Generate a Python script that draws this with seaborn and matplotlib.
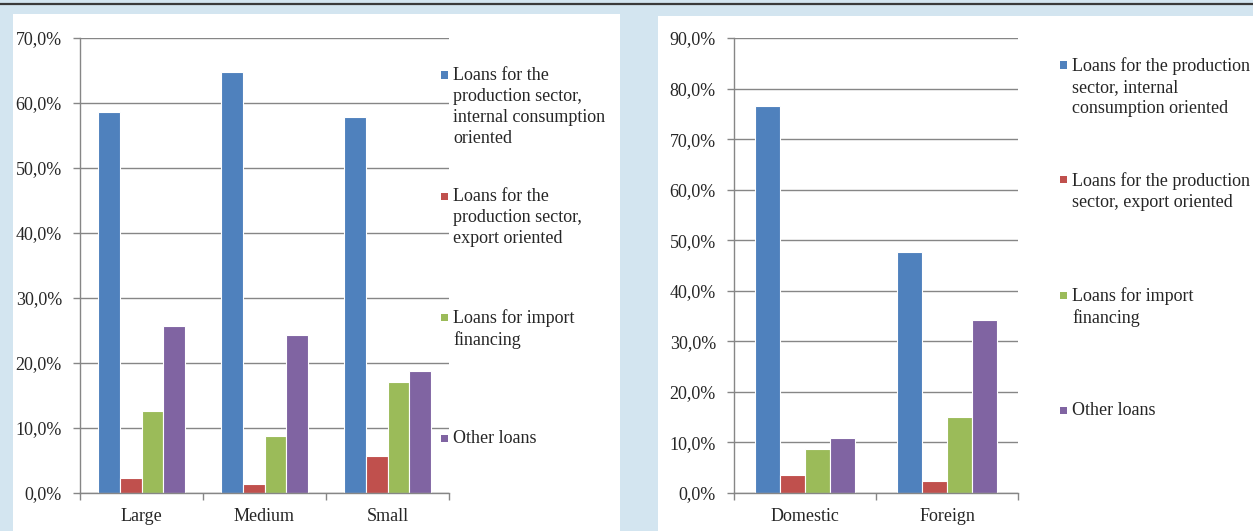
import pandas as pd
import matplotlib.pyplot as plt
import seaborn as sns
from matplotlib.patches import Rectangle
from matplotlib.lines import Line2D
from matplotlib.ticker import FuncFormatter

W, H = 1253, 531

# 数据
series = ["internal", "export", "import", "other"]
colors = ["#4f81bd", "#c0504d", "#9bbb59", "#8064a2"]

size_groups = ["Large", "Medium", "Small"]
size_internal = [58.6, 64.8, 57.8]
size_export = [2.3, 1.4, 5.7]
size_import = [12.6, 8.8, 17.1]
size_other = [25.7, 24.3, 18.8]

owner_groups = ["Domestic", "Foreign"]
owner_internal = [76.5, 47.7]
owner_export = [3.5, 2.4]
owner_import = [8.7, 15.1]
owner_other = [10.9, 34.2]

left_labels = ["Loans for the\nproduction sector,\ninternal consumption\noriented",
               "Loans for the\nproduction sector,\nexport oriented",
               "Loans for import\nfinancing",
               "Other loans"]
right_labels = ["Loans for the production\nsector, internal\nconsumption oriented",
                "Loans for the production\nsector, export oriented",
                "Loans for import\nfinancing",
                "Other loans"]


def to_long(groups, *vals):
    rows = []
    for s, v in zip(series, vals):
        for g, x in zip(groups, v):
            rows.append({"group": g, "series": s, "value": x})
    return pd.DataFrame(rows)


df_size = to_long(size_groups, size_internal, size_export, size_import, size_other)
df_owner = to_long(owner_groups, owner_internal, owner_export, owner_import, owner_other)

sns.set_style("white")
plt.rcParams['font.family'] = ['Liberation Serif', 'DejaVu Serif']

fig = plt.figure(figsize=(W / 100, H / 100), dpi=100, facecolor="#d3e5f0")

# 白色面板与顶部线条
fig.add_artist(Rectangle((13 / W, 0), (620 - 13) / W, (531 - 14) / H, transform=fig.transFigure,
                         facecolor="white", edgecolor="none", zorder=-1))
fig.add_artist(Rectangle((658 / W, 0), (1253 - 658) / W, (531 - 16) / H, transform=fig.transFigure,
                         facecolor="white", edgecolor="none", zorder=-1))
fig.add_artist(Line2D([0, 1], [1 - 4 / H, 1 - 4 / H], transform=fig.transFigure,
                      color="#3a3a3a", lw=1.6))

ax1 = fig.add_axes([80 / W, 38 / H, 369 / W, 455 / H])
ax2 = fig.add_axes([734 / W, 38 / H, 284 / W, 455 / H])

pct = FuncFormatter(lambda v, p: f"{v:.1f}%".replace(".", ","))

for ax, df, groups, ymax in [(ax1, df_size, size_groups, 70), (ax2, df_owner, owner_groups, 90)]:
    sns.barplot(data=df, x="group", y="value", hue="series", hue_order=series,
                palette=colors, saturation=1, width=0.71, edgecolor="white",
                linewidth=0.8, legend=False, ax=ax)
    ax.set_ylim(0, ymax)
    ax.set_yticks(range(0, ymax + 1, 10))
    ax.yaxis.set_major_formatter(pct)
    ax.set_xlim(-0.5, len(groups) - 0.5)
    ax.set_xticks([i - 0.5 for i in range(len(groups) + 1)], minor=True)
    ax.set_xlabel("")
    ax.set_ylabel("")
    ax.grid(axis="y", color="#868686", lw=1)
    ax.set_axisbelow(True)
    for s in ["top", "right"]:
        ax.spines[s].set_visible(False)
    for s in ["left", "bottom"]:
        ax.spines[s].set_color("#868686")
        ax.spines[s].set_linewidth(1)
    ax.tick_params(axis="y", length=5, color="#868686", width=1, labelsize=13, pad=8, left=True)
    ax.tick_params(axis="x", which="major", length=0, labelsize=13, pad=11)
    ax.tick_params(axis="x", which="minor", length=5, color="#868686", width=1, bottom=True)
    ax.set_facecolor("white")


def draw_legend(labels, x_marker, x_text, y_first, step):
    for i, (lab, c) in enumerate(zip(labels, colors)):
        y = y_first + i * step
        fig.add_artist(Rectangle(((x_marker - 3.5) / W, 1 - (y + 3.5) / H), 7 / W, 7 / H,
                                 transform=fig.transFigure, facecolor=c, edgecolor="none"))
        fig.text(x_text / W, 1 - (y - 8) / H, lab, fontsize=13, va="top", ha="left",
                 linespacing=1.3)


draw_legend(left_labels, 444, 453, 75, 121)
draw_legend(right_labels, 1063, 1072, 65, 115)

plt.savefig("out.png", dpi=100, facecolor=fig.get_facecolor())
